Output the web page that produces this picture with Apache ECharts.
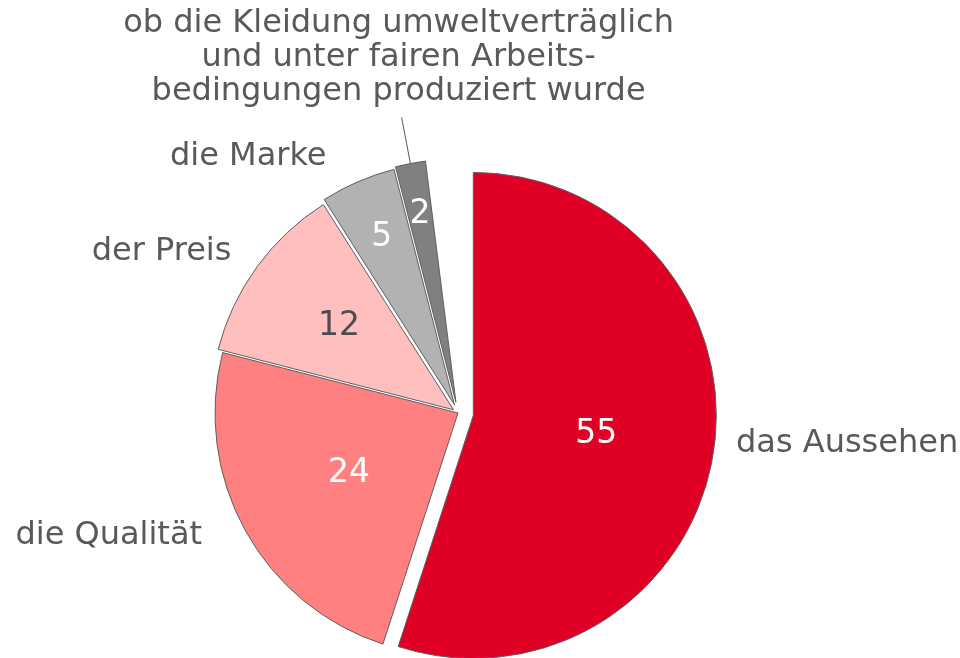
<!DOCTYPE html>
<html>
<head>
<meta charset="utf-8">
<script src="https://cdn.jsdelivr.net/npm/echarts@6/dist/echarts.min.js"></script>
<style>
  html, body { margin: 0; padding: 0; background: #fff; }
  #chart { width: 960px; height: 658px; }
</style>
</head>
<body>
<div id="chart"></div>
<script>
// data
const categories = [
  'das Aussehen',
  'die Qualität',
  'der Preis',
  'die Marke',
  'ob die Kleidung umweltverträglich\nund unter fairen Arbeits-\nbedingungen produziert wurde'
];
const values = [55, 24, 12, 5, 2];
const total = 100; // die fehlenden Prozent bleiben als Lücke leer

// style
const colors = ['#E00025', '#FF8080', '#FFBFBF', '#B2B2B2', '#808080'];
const valueColors = ['#ffffff', '#ffffff', '#4d4d4d', '#ffffff', '#ffffff'];
const explode = [15.5, 0, 5.5, 9, 11];           // px, wie im Original herausgezogen
const valueRadius = [0.5, 0.5, 0.57, 0.74, 0.775]; // Lage der Zahl (Anteil vom Radius)
const leaderLine = [0, 0, 0, 0, 58];
const nameNudge = [[33, -7], [-38, 6], [-25, -18], [-30, -33], [-3, -9]];

const CENTER = [458, 413];
const R = 243;
const FONT = '"DejaVu Sans", Verdana, sans-serif';
const TEXT = '#595959';

const rest = total - values.reduce((a, b) => a + b, 0);
const allValues = values.concat([rest]);

// Mittelwinkel jedes Stücks, Grad im Uhrzeigersinn ab 12 Uhr
const midAngles = [];
let acc = 0;
values.forEach(v => { midAngles.push((acc + v / 2) / total * 360); acc += v; });

const rad = d => d * Math.PI / 180;
const hidden = { color: 'rgba(0,0,0,0)', borderWidth: 0 };

function sliceSeries(i) {
  const a = rad(midAngles[i]);
  return {
    type: 'pie',
    z: 2,
    center: [CENTER[0] + explode[i] * Math.sin(a), CENTER[1] - explode[i] * Math.cos(a)],
    radius: R,
    startAngle: 90,
    clockwise: true,
    avoidLabelOverlap: false,
    silent: true,
    animation: false,
    emphasis: { disabled: true },
    data: allValues.map((v, j) => j === i ? {
      name: categories[j],
      value: v,
      itemStyle: { color: colors[j], borderColor: '#5f5f5f', borderWidth: 1 },
      label: {
        show: true, position: 'inside', formatter: '{c}',
        color: valueColors[j], fontSize: 33, fontFamily: FONT
      }
    } : {
      name: '', value: v, itemStyle: hidden, label: { show: false }, labelLine: { show: false }
    }),
    labelLayout: p => {
      if (p.dataIndex !== i) return {};
      const k = (valueRadius[i] - 0.5) * R;
      const r = p.labelRect;
      return {
        x: r.x + r.width / 2 + k * Math.sin(a),
        y: r.y + r.height / 2 - k * Math.cos(a),
        align: 'center',
        verticalAlign: 'middle'
      };
    }
  };
}

// Beschriftung aussen, eigene (unsichtbare) Serie unter den Stücken
const nameSeries = {
  type: 'pie',
  z: 1,
  center: CENTER,
  radius: R,
  startAngle: 90,
  clockwise: true,
  avoidLabelOverlap: false,
  silent: true,
  animation: false,
  emphasis: { disabled: true },
  label: {
    show: true, position: 'outside', formatter: '{b}',
    color: TEXT, fontSize: 32, lineHeight: 34, fontFamily: FONT
  },
  labelLine: { show: false, length: 0, length2: 0, lineStyle: { color: '#595959', width: 1 } },
  data: allValues.map((v, j) => {
    if (j >= values.length) {
      return { name: '', value: v, itemStyle: hidden, label: { show: false }, labelLine: { show: false } };
    }
    const item = { name: categories[j], value: v, itemStyle: hidden };
    if (leaderLine[j] > 0) {
      item.labelLine = { show: true, length: leaderLine[j], length2: 0 };
      item.label = { width: 640, align: 'center' };
    }
    return item;
  }),
  labelLayout: p => {
    const i = p.dataIndex;
    if (i >= values.length) return {};
    const [dx, dy] = nameNudge[i];
    if (leaderLine[i] > 0 && p.labelLinePoints) {
      const end = p.labelLinePoints[p.labelLinePoints.length - 1];
      return {
        x: end[0] + dx, y: end[1] + dy,
        align: 'center', verticalAlign: 'bottom',
        labelLinePoints: p.labelLinePoints
      };
    }
    const r = p.labelRect;
    const right = midAngles[i] < 180;
    return {
      x: (right ? r.x : r.x + r.width) + dx,
      y: r.y + r.height / 2 + dy,
      align: right ? 'left' : 'right',
      verticalAlign: 'middle'
    };
  }
};

const chart = echarts.init(document.getElementById('chart'), null, { renderer: 'canvas' });
chart.setOption({
  backgroundColor: '#ffffff',
  animation: false,
  tooltip: { show: false },
  series: [nameSeries].concat(values.map((v, i) => sliceSeries(i)))
});
</script>
</body>
</html>
